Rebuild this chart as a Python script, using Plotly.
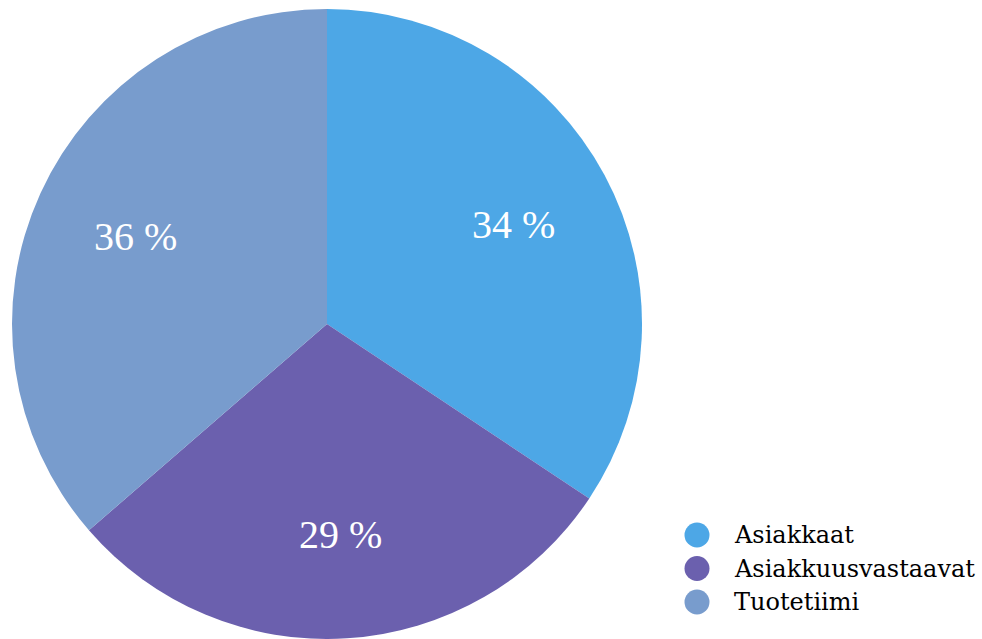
import math
import plotly.graph_objects as go

categories = ["Asiakkaat", "Asiakkuusvastaavat", "Tuotetiimi"]
values = [34, 29, 36]
colors = ["#4DA7E6", "#6B60AE", "#789CCD"]

LABEL_FONT = "Liberation Serif, serif"
LEGEND_FONT = "DejaVu Serif, serif"

W, H = 982, 639
R = 315
CX, CY = 327, 324  # pie centre in pixels from left / top

fig = go.Figure()
fig.add_trace(go.Pie(
    labels=categories,
    values=values,
    sort=False,
    direction="clockwise",
    rotation=0,
    marker=dict(colors=colors, line=dict(width=0)),
    textinfo="none",
    showlegend=False,
    hoverinfo="label+percent",
    domain=dict(x=[(CX - R) / W, (CX + R) / W], y=[0, 2 * R / H]),
))

# slice labels placed along each slice's mid-angle
total = sum(values)
cum = 0
for v in values:
    mid = (cum + v / 2) / total * 2 * math.pi
    cum += v
    rr = 0.67 * R
    fig.add_annotation(
        x=(CX + rr * math.sin(mid)) / W,
        y=(H - CY + rr * math.cos(mid)) / H,
        xref="paper", yref="paper",
        text=f"{v} %", showarrow=False,
        font=dict(family=LABEL_FONT, size=40, color="white"),
        xanchor="center", yanchor="middle",
    )

# custom legend (circle swatches + text)
LEG_X, LEG_Y0, LEG_DY, DOT = 697, 535, 33.5, 25
for i, (name, col) in enumerate(zip(categories, colors)):
    cy = LEG_Y0 + i * LEG_DY
    fig.add_shape(
        type="circle", xref="paper", yref="paper",
        x0=(LEG_X - DOT / 2) / W, x1=(LEG_X + DOT / 2) / W,
        y0=(H - cy - DOT / 2) / H, y1=(H - cy + DOT / 2) / H,
        fillcolor=col, line=dict(width=0),
    )
    fig.add_annotation(
        x=(LEG_X + 35) / W, y=(H - cy) / H, xref="paper", yref="paper",
        text=name, showarrow=False, xanchor="left", yanchor="middle",
        font=dict(family=LEGEND_FONT, size=24, color="black"),
    )

fig.update_layout(
    width=W, height=H,
    margin=dict(l=0, r=0, t=0, b=0),
    paper_bgcolor="white", plot_bgcolor="white",
    showlegend=False,
)

fig.write_html("out.html")
